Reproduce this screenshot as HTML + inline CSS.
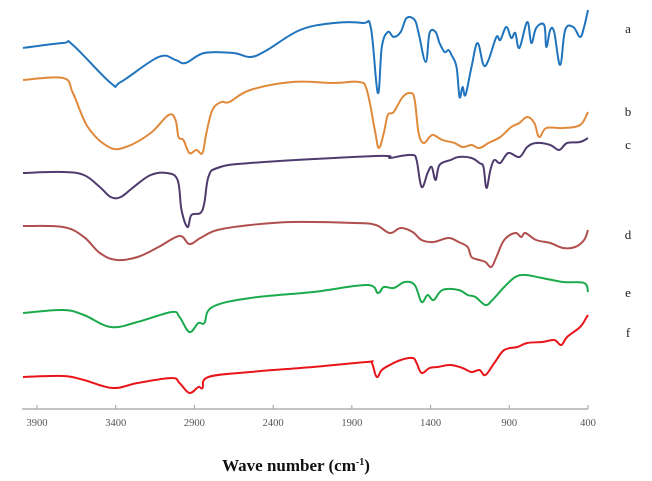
<!DOCTYPE html>
<html><head><meta charset="utf-8"><style>
body{margin:0;background:#fff;width:652px;height:481px;overflow:hidden}
svg{display:block}
text{font-family:"Liberation Serif",serif}
</style></head><body>
<svg id="chart" width="652" height="481" viewBox="0 0 652 481"></svg>
<script>
const ticks = [3900, 3400, 2900, 2400, 1900, 1400, 900, 400];
const labels = ["a", "b", "c", "d", "e", "f"];
const wnA = [3989,3735,3672,3432,3368,3128,3020,2957,2837,2653,2545,2438,2229,2014,1830,1779,1735,1710,1672,1634,1590,1552,1501,1476,1431,1406,1368,1343,1311,1286,1267,1235,1216,1197,1178,1140,1102,1064,1032,982,957,919,887,862,836,786,760,729,678,665,640,615,577,545,494,450,425,400];
const tA = [362,367,365,327,328,353,350,347,357,357,353,360,380,387,387,382,317,363,378,373,378,392,390,377,348,377,378,367,358,360,355,343,313,323,315,343,367,345,350,373,370,383,372,377,362,388,367,382,385,363,380,378,345,380,383,373,383,400];
const wnB = [3989,3735,3672,3577,3444,3336,3178,3064,3020,3001,2970,2932,2887,2849,2824,2786,2729,2678,2545,2280,2014,1855,1805,1754,1729,1697,1672,1634,1577,1526,1501,1476,1444,1406,1381,1324,1248,1197,1140,1090,1032,957,887,836,786,741,710,665,558,450,400];
const tB = [330,332,317,283,263,263,277,295,290,273,270,257,260,257,277,300,308,308,320,328,327,328,320,280,262,277,295,298,313,317,310,277,267,273,275,270,267,263,265,262,267,273,283,287,293,287,273,282,282,285,298];
const wnC = [3989,3735,3602,3501,3432,3368,3286,3178,3077,3007,2982,2944,2919,2862,2837,2811,2754,2545,1748,1659,1590,1514,1489,1457,1419,1393,1368,1343,1273,1222,1140,1090,1064,1045,1020,995,957,906,836,786,729,640,583,533,450,400];
const tC = [237,238,235,223,213,213,223,235,237,230,200,183,195,197,207,233,242,247,254,252,254,255,250,223,237,243,230,245,250,253,252,247,243,222,240,250,247,257,253,263,267,265,260,267,268,272];
const wnD = [3989,3735,3602,3501,3394,3261,3128,2995,2932,2862,2754,2545,2280,1881,1748,1659,1590,1514,1457,1381,1286,1222,1165,1140,1090,1052,1014,982,932,862,824,798,729,640,558,482,425,400];
const tD = [184,183,173,157,150,153,163,174,166,172,180,185,188,187,185,177,182,178,170,168,172,168,163,153,150,148,143,153,170,177,173,177,170,167,162,163,170,180];
const wnE = [3989,3735,3602,3432,3261,3045,2995,2932,2875,2837,2786,2545,2147,1805,1735,1697,1634,1564,1501,1457,1419,1381,1324,1222,1165,1115,1052,1007,932,862,798,691,558,425,400];
const tE = [97,100,95,83,88,98,93,78,87,87,103,112,118,125,117,123,122,128,125,108,115,110,120,120,115,113,105,110,123,133,135,132,128,127,118];
const wnF = [3989,3735,3602,3419,3261,3045,2995,2932,2875,2849,2811,2545,2147,1805,1773,1742,1710,1659,1590,1514,1489,1457,1406,1355,1273,1197,1140,1090,1052,995,932,849,786,691,615,570,533,450,412,400];
const tF = [33,34,30,22,27,32,27,17,23,22,33,38,43,48,47,33,40,45,50,52,47,37,42,43,45,42,38,40,35,47,60,63,67,68,70,65,73,83,92,95];

const series = [
  {wn: wnA, t: tA, color: "#1f74bd", label: "a", ly: 33},
  {wn: wnB, t: tB, color: "#e0893b", label: "b", ly: 116},
  {wn: wnC, t: tC, color: "#4e3b6d", label: "c", ly: 149},
  {wn: wnD, t: tD, color: "#b04f4d", label: "d", ly: 239},
  {wn: wnE, t: tE, color: "#1aaa4c", label: "e", ly: 297},
  {wn: wnF, t: tF, color: "#e8141a", label: "f", ly: 337}
];
const NS = "http://www.w3.org/2000/svg";
const svg = document.getElementById("chart");
const xScale = w => 37 + (3900 - w) * 551 / 3500;
const yScale = v => 410 - v;
function mk(tag, attrs) {
  const e = document.createElementNS(NS, tag);
  for (const k in attrs) e.setAttribute(k, attrs[k]);
  svg.appendChild(e);
  return e;
}
function smoothPath(pts) {
  let d = "M" + pts[0][0].toFixed(1) + "," + pts[0][1].toFixed(1);
  const k = 0.18;
  for (let i = 0; i < pts.length - 1; i++) {
    const p0 = pts[i - 1] || pts[i], p1 = pts[i], p2 = pts[i + 1], p3 = pts[i + 2] || p2;
    const c1x = p1[0] + (p2[0] - p0[0]) * k, c1y = p1[1] + (p2[1] - p0[1]) * k;
    const c2x = p2[0] - (p3[0] - p1[0]) * k, c2y = p2[1] - (p3[1] - p1[1]) * k;
    d += "C" + c1x.toFixed(1) + "," + c1y.toFixed(1) + " " + c2x.toFixed(1) + "," + c2y.toFixed(1) + " " + p2[0].toFixed(1) + "," + p2[1].toFixed(1);
  }
  return d;
}
const axis = mk("line", {x1: 22, x2: 588, y1: 409, y2: 409, stroke: "#a0a0a0", "stroke-width": 1.3});


ticks.forEach(tv => {
  const tk = mk("line", {x1: xScale(tv), x2: xScale(tv), y1: 405, y2: 409, stroke: "#a0a0a0", "stroke-width": 1});
  
  
  const t = mk("text", {x: xScale(tv), y: 426, "text-anchor": "middle", "font-size": 10.5, fill: "#555"});
  t.textContent = tv;
  
  
});
series.forEach((s, i) => {
  const pts = s.wn.map((w, j) => [xScale(w), yScale(s.t[j])]);
  const p = mk("path", {d: smoothPath(pts), fill: "none", stroke: s.color, "stroke-width": 2, "stroke-linejoin": "round"});
  
  
  const l = mk("text", {x: 628, y: s.ly, "font-size": 13, fill: "#222", "text-anchor": "middle"});
  l.textContent = s.label;
  
  
});
const title = mk("text", {x: 296, y: 471, "text-anchor": "middle", "font-size": 17, "font-weight": "bold", fill: "#111"});


title.innerHTML = 'Wave number (cm<tspan dy="-6" font-size="10">-1</tspan><tspan dy="6">)</tspan>';
</script>
</body></html>
